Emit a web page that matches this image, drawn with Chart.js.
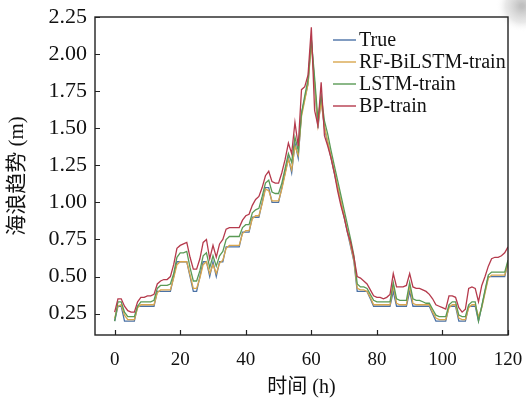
<!DOCTYPE html>
<html>
<head>
<meta charset="utf-8">
<script src="https://cdn.jsdelivr.net/npm/chart.js@4/dist/chart.umd.min.js"></script>
<style>
  html, body { margin: 0; padding: 0; background: #ffffff; }
  #wrap { width: 526px; height: 401px; }
</style>
</head>
<body>
<div id="wrap"><canvas id="c" width="526" height="401"></canvas></div>
<script>
// Hours 0..120
const hours = [
  0,1,2,3,4,5,6,7,8,9,10,11,12,13,14,15,16,17,18,19,20,
  21,22,23,24,25,26,27,28,29,30,31,32,33,34,35,36,37,38,39,40,
  41,42,43,44,45,46,47,48,49,50,51,52,53,54,55,56,57,58,59,60,
  61,62,63,64,65,66,67,68,69,70,71,72,73,74,75,76,77,78,79,80,
  81,82,83,84,85,86,87,88,89,90,91,92,93,94,95,96,97,98,99,100,
  101,102,103,104,105,106,107,108,109,110,111,112,113,114,115,116,117,118,119,120
];

// Observed wave trend (m)
const trueValues = [
  0.20,0.30,0.30,0.20,0.20,0.20,0.20,0.30,0.30,0.30,0.30,0.30,0.30,0.40,0.40,0.40,0.40,0.40,0.50,0.60,0.60,
  0.60,0.60,0.50,0.40,0.40,0.50,0.60,0.60,0.50,0.60,0.50,0.60,0.60,0.70,0.70,0.70,0.70,0.70,0.80,0.80,
  0.80,0.90,0.90,0.90,1.00,1.10,1.10,1.00,1.00,1.00,1.10,1.20,1.30,1.20,1.40,1.30,1.60,1.70,1.80,2.10,
  1.80,1.50,1.70,1.50,1.40,1.30,1.20,1.10,1.00,0.90,0.80,0.70,0.60,0.40,0.40,0.40,0.40,0.35,0.30,0.30,
  0.30,0.30,0.30,0.30,0.40,0.30,0.30,0.30,0.30,0.40,0.30,0.30,0.30,0.30,0.30,0.30,0.25,0.20,0.20,0.20,
  0.20,0.30,0.30,0.30,0.20,0.20,0.20,0.30,0.30,0.30,0.20,0.30,0.40,0.50,0.50,0.50,0.50,0.50,0.50,0.60
];

// RF-BiLSTM fit on the training set
const rfBiLstmValues = [
  0.22,0.30,0.31,0.24,0.21,0.21,0.21,0.29,0.31,0.31,0.31,0.31,0.31,0.39,0.41,0.41,0.41,0.41,0.49,0.58,0.60,
  0.60,0.60,0.51,0.42,0.42,0.49,0.58,0.60,0.52,0.58,0.52,0.59,0.61,0.69,0.71,0.71,0.71,0.71,0.79,0.81,
  0.81,0.89,0.91,0.91,0.99,1.09,1.08,1.01,1.01,1.01,1.09,1.19,1.29,1.22,1.38,1.32,1.58,1.69,1.80,2.07,
  1.80,1.52,1.68,1.51,1.41,1.31,1.21,1.11,1.01,0.91,0.81,0.71,0.61,0.42,0.41,0.41,0.40,0.36,0.31,0.31,
  0.31,0.31,0.31,0.31,0.44,0.32,0.31,0.31,0.31,0.44,0.32,0.31,0.31,0.31,0.31,0.31,0.26,0.22,0.21,0.21,
  0.21,0.29,0.31,0.31,0.22,0.21,0.21,0.29,0.31,0.31,0.23,0.29,0.39,0.49,0.51,0.51,0.51,0.51,0.51,0.59
];

// LSTM fit on the training set
const lstmValues = [
  0.20,0.33,0.33,0.26,0.23,0.23,0.23,0.30,0.33,0.33,0.33,0.33,0.34,0.42,0.44,0.44,0.44,0.45,0.52,0.63,0.66,
  0.66,0.67,0.56,0.47,0.47,0.54,0.64,0.66,0.56,0.64,0.57,0.64,0.67,0.75,0.77,0.77,0.77,0.77,0.83,0.85,
  0.85,0.93,0.95,0.96,1.04,1.13,1.15,1.07,1.06,1.06,1.13,1.23,1.33,1.27,1.44,1.35,1.60,1.72,1.83,2.10,
  1.84,1.56,1.72,1.55,1.46,1.35,1.25,1.15,1.05,0.95,0.85,0.75,0.64,0.45,0.43,0.43,0.42,0.38,0.34,0.33,
  0.33,0.33,0.33,0.33,0.46,0.35,0.34,0.34,0.34,0.46,0.35,0.34,0.34,0.33,0.32,0.32,0.28,0.24,0.23,0.23,
  0.23,0.31,0.33,0.33,0.24,0.23,0.23,0.31,0.33,0.33,0.20,0.30,0.41,0.51,0.53,0.53,0.53,0.53,0.53,0.61
];

// BP network fit on the training set
const bpValues = [
  0.26,0.35,0.35,0.30,0.27,0.26,0.26,0.33,0.36,0.36,0.37,0.37,0.38,0.45,0.47,0.48,0.48,0.50,0.58,0.69,0.71,
  0.72,0.73,0.63,0.55,0.55,0.62,0.73,0.75,0.62,0.71,0.63,0.72,0.75,0.82,0.83,0.83,0.83,0.83,0.88,0.91,
  0.92,0.98,1.02,1.04,1.10,1.18,1.21,1.14,1.13,1.13,1.20,1.29,1.40,1.33,1.54,1.38,1.76,1.78,1.86,2.18,
  1.62,1.52,1.81,1.45,1.38,1.30,1.20,1.08,0.98,0.90,0.80,0.73,0.63,0.50,0.49,0.47,0.45,0.41,0.37,0.36,
  0.36,0.35,0.36,0.38,0.52,0.43,0.43,0.43,0.44,0.52,0.43,0.42,0.42,0.41,0.40,0.38,0.35,0.31,0.30,0.29,
  0.28,0.37,0.37,0.36,0.29,0.26,0.28,0.42,0.43,0.42,0.33,0.44,0.50,0.57,0.62,0.63,0.63,0.64,0.66,0.70
];

const seriesLabels = ['True', 'RF-BiLSTM-train', 'LSTM-train', 'BP-train'];
const xTickValues = [0, 20, 40, 60, 80, 100, 120];
const yTickValues = [0.25, 0.50, 0.75, 1.00, 1.25, 1.50, 1.75, 2.00, 2.25];

const seriesColors = ['#4b72a6', '#d9a64e', '#5a9a55', '#b53a4c'];
const serif = '"Liberation Serif", "Times New Roman", "Noto Sans CJK SC", serif';

function toPoints(values) {
  return hours.map((h, i) => ({ x: h, y: values[i] }));
}

// Soft grey smudge in the top right corner of the sheet
const smudgePlugin = {
  id: 'smudge',
  beforeDraw(chart) {
    const { ctx } = chart;
    ctx.save();
    const g = ctx.createRadialGradient(522, 6, 2, 522, 6, 26);
    g.addColorStop(0, 'rgba(140,140,140,0.55)');
    g.addColorStop(0.6, 'rgba(180,180,180,0.3)');
    g.addColorStop(1, 'rgba(255,255,255,0)');
    ctx.fillStyle = g;
    ctx.fillRect(490, 0, 36, 36);
    ctx.restore();
  }
};

// Closed frame with inward tick marks
const framePlugin = {
  id: 'frame',
  afterDraw(chart) {
    const { ctx, chartArea: a, scales } = chart;
    ctx.save();
    ctx.strokeStyle = '#222';
    ctx.lineWidth = 1.4;
    ctx.strokeRect(a.left, a.top, a.right - a.left, a.bottom - a.top);
    ctx.lineWidth = 1.2;
    ctx.beginPath();
    yTickValues.forEach(v => {
      const y = Math.round(scales.y.getPixelForValue(v)) + 0.5;
      ctx.moveTo(a.left, y);
      ctx.lineTo(a.left + 5, y);
    });
    xTickValues.forEach(v => {
      const x = Math.round(scales.x.getPixelForValue(v)) + 0.5;
      ctx.moveTo(x, a.bottom);
      ctx.lineTo(x, a.bottom - 5);
    });
    ctx.stroke();
    ctx.restore();
  }
};

// Legend in the upper right of the plot
const legendPlugin = {
  id: 'insideLegend',
  afterDraw(chart) {
    const { ctx } = chart;
    const x0 = 333, lineLen = 23, textX = 359, y0 = 40, step = 22;
    ctx.save();
    ctx.font = '20px ' + serif;
    ctx.textBaseline = 'middle';
    chart.data.datasets.forEach((ds, i) => {
      const y = y0 + i * step;
      ctx.strokeStyle = ds.borderColor;
      ctx.lineWidth = 1.4;
      ctx.beginPath();
      ctx.moveTo(x0, y);
      ctx.lineTo(x0 + lineLen, y);
      ctx.stroke();
      ctx.fillStyle = '#111';
      ctx.fillText(ds.label, textX, y + 1);
    });
    ctx.restore();
  }
};

const datasets = [trueValues, rfBiLstmValues, lstmValues, bpValues].map((vals, i) => ({
  label: seriesLabels[i],
  data: toPoints(vals),
  borderColor: seriesColors[i],
  backgroundColor: seriesColors[i],
  borderWidth: 1.3,
  pointRadius: 0,
  tension: 0,
  fill: false
}));
// draw BP first so the closer fits sit on top of it
datasets.forEach((d, i) => { d.order = 3 - i; });

new Chart(document.getElementById('c'), {
  type: 'line',
  data: { datasets },
  options: {
    responsive: false,
    animation: false,
    devicePixelRatio: 1,
    layout: { padding: { top: 17, right: 18, left: 0, bottom: 0 } },
    plugins: { legend: { display: false }, tooltip: { enabled: false } },
    scales: {
      x: {
        type: 'linear',
        min: -6,
        max: 120,
        grid: { display: false, drawTicks: false },
        border: { display: false },
        afterBuildTicks(scale) { scale.ticks = xTickValues.map(v => ({ value: v })); },
        afterFit(scale) {
          scale.height = 66;
          scale.paddingLeft = 0;
          scale.paddingRight = 0;
        },
        ticks: {
          padding: 14,
          color: '#111',
          font: { family: serif, size: 19 },
          maxRotation: 0,
          callback: v => String(v)
        },
        title: {
          display: true,
          text: '时间 (h)',
          color: '#111',
          font: { family: serif, size: 20 },
          padding: { top: 0, bottom: 1 }
        }
      },
      y: {
        min: 0.106,
        max: 2.25,
        grid: { display: false, drawTicks: false },
        border: { display: false },
        afterBuildTicks(scale) { scale.ticks = yTickValues.map(v => ({ value: v })); },
        afterFit(scale) {
          scale.width = 95;
          scale.paddingTop = 0;
          scale.paddingBottom = 0;
        },
        ticks: {
          padding: 8,
          color: '#111',
          font: { family: serif, size: 22 },
          callback: v => Number(v).toFixed(2)
        },
        title: {
          display: true,
          text: '海浪趋势 (m)',
          color: '#111',
          font: { family: serif, size: 21 },
          padding: { top: 5, bottom: 0 }
        }
      }
    }
  },
  plugins: [smudgePlugin, framePlugin, legendPlugin]
});
</script>
</body>
</html>
